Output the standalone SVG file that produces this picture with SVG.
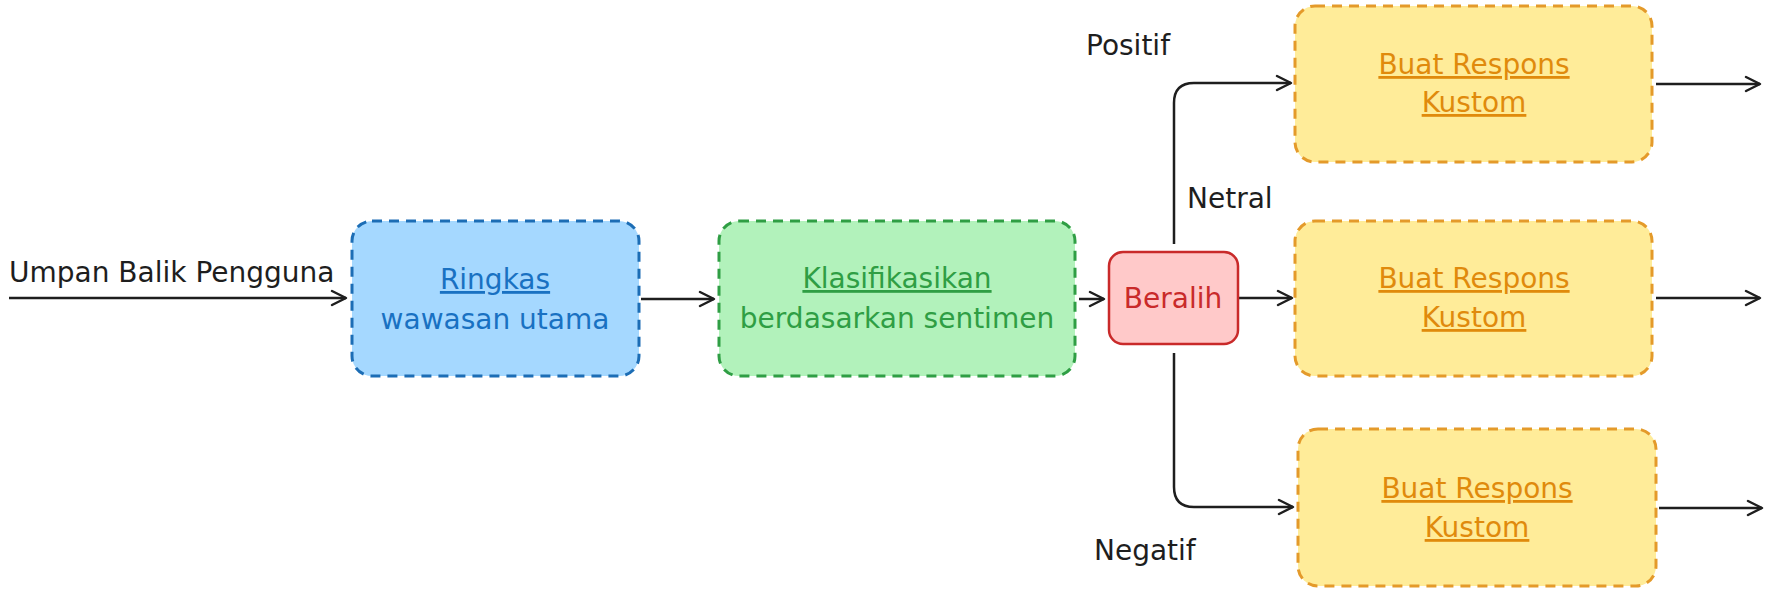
<svg xmlns="http://www.w3.org/2000/svg" width="1778" height="592" viewBox="0 0 1778 592">
<style>
text{font-family:"DejaVu Sans","Liberation Sans",sans-serif;font-size:28px;text-anchor:middle}
.lbl{fill:#1e1e1e;text-anchor:start}
.u{text-decoration:underline}
.box{stroke-width:3;stroke-dasharray:10 7}
.blue{fill:#a5d8ff;stroke:#1c6db5}
.green{fill:#b2f2bb;stroke:#2f9e44}
.yel{fill:#ffec99;stroke:#e49a2a}
.tb{fill:#1971c2}.tg{fill:#2f9e44}.ty{fill:#e08a0c}.tr{fill:#c92a2a}
.c{fill:none;stroke:#1e1e1e;stroke-width:2.5}
</style>
<defs>
<marker id="ah" markerWidth="18" markerHeight="18" refX="16" refY="9" orient="auto" markerUnits="userSpaceOnUse">
<path d="M2,2 L16,9 L2,16" fill="none" stroke="#1e1e1e" stroke-width="2.5" stroke-linecap="round" stroke-linejoin="round"/>
</marker>
</defs>
<rect width="1778" height="592" fill="#ffffff"/>
<g id="connectors">
<path class="c" d="M9,298 L346,298" marker-end="url(#ah)"/>
<path class="c" d="M641,299 L714,299" marker-end="url(#ah)"/>
<path class="c" d="M1079,299 L1104,299" marker-end="url(#ah)"/>
<path class="c" d="M1174,244 L1174,103 Q1174,83 1194,83 L1291,83" marker-end="url(#ah)"/>
<path class="c" d="M1238,298 L1292,298" marker-end="url(#ah)"/>
<path class="c" d="M1174,353 L1174,487 Q1174,507 1194,507 L1293,507" marker-end="url(#ah)"/>
<path class="c" d="M1656,84 L1760,84" marker-end="url(#ah)"/>
<path class="c" d="M1656,298 L1760,298" marker-end="url(#ah)"/>
<path class="c" d="M1659,508 L1762,508" marker-end="url(#ah)"/>
<text class="lbl" x="9" y="282">Umpan Balik Pengguna</text>
<text class="lbl" x="1086" y="55">Positif</text>
<text class="lbl" x="1187" y="208">Netral</text>
<text class="lbl" x="1094" y="560">Negatif</text>
</g>
<g id="ringkas">
<rect class="box blue" x="352" y="221" width="287" height="155" rx="20"/>
<text class="tb u" x="495" y="289">Ringkas</text>
<text class="tb" x="495" y="329">wawasan utama</text>
</g>
<g id="klasifikasi">
<rect class="box green" x="719" y="221" width="356" height="155" rx="20"/>
<text class="tg u" x="897" y="288">Klasifikasikan</text>
<text class="tg" x="897" y="328">berdasarkan sentimen</text>
</g>
<g id="beralih">
<rect x="1109" y="252" width="129" height="92" rx="14" fill="#ffc9c9" stroke="#c92a2a" stroke-width="2.5"/>
<text class="tr" x="1173" y="308">Beralih</text>
</g>
<g id="respons-positif">
<rect class="box yel" x="1295" y="6" width="357" height="156" rx="20"/>
<text class="ty u" x="1474" y="74">Buat Respons</text>
<text class="ty u" x="1474" y="112">Kustom</text>
</g>
<g id="respons-netral">
<rect class="box yel" x="1295" y="221" width="357" height="155" rx="20"/>
<text class="ty u" x="1474" y="288">Buat Respons</text>
<text class="ty u" x="1474" y="327">Kustom</text>
</g>
<g id="respons-negatif">
<rect class="box yel" x="1298" y="429" width="358" height="157" rx="20"/>
<text class="ty u" x="1477" y="498">Buat Respons</text>
<text class="ty u" x="1477" y="537">Kustom</text>
</g>
</svg>
